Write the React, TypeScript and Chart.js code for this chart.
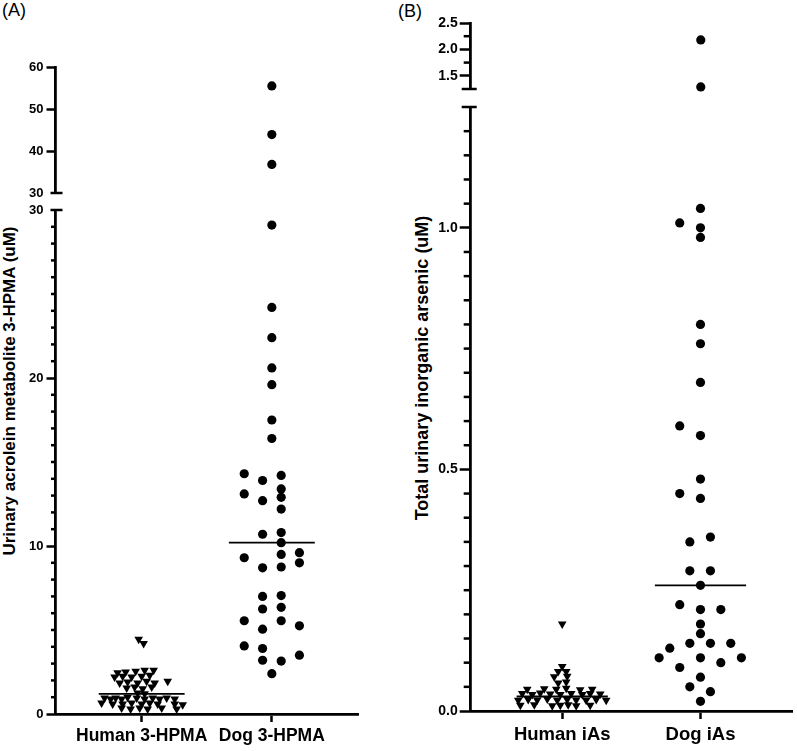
import React, { useEffect, useRef } from 'react';
import { Chart, registerables } from 'chart.js';

Chart.register(...registerables);

const FONT = "'Liberation Sans', Arial, Helvetica, sans-serif";

// ---------------- Panel A: urinary acrolein metabolite 3-HPMA (uM) ----------------
const categoriesA = ['Human 3-HPMA', 'Dog 3-HPMA'];
const humanAValues = [4.45, 4.2, 2.45, 2.5, 2.55, 2.6, 2.6, 2.2, 2.25, 2.2, 2.25, 2.3, 1.95, 1.85, 1.9, 1.85, 1.95, 1.85, 1.55, 1.6, 1.5, 1.6, 1.25, 1.2, 0.95, 0.9, 0.95, 0.9, 1.0, 0.95, 0.9, 0.95, 0.9, 0.95, 0.9, 0.65, 0.6, 0.6, 0.65, 0.6, 0.65, 0.6, 0.6, 0.55, 0.35, 0.3, 0.35, 0.3, 0.35, 0.3];
// horizontal spread of each point inside its column, in category widths
const humanAJitter = [-0.023, 0.015, -0.185, -0.123, -0.046, 0.023, 0.092, -0.208, -0.146, -0.077, 0, 0.062, 0.2, -0.169, -0.108, -0.031, 0.038, 0.1, -0.115, -0.054, 0.008, 0.077, -0.031, 0.023, -0.285, -0.238, -0.2, -0.154, -0.108, -0.038, 0.023, 0.085, 0.138, 0.192, 0.254, -0.308, -0.223, -0.146, -0.077, 0, 0.062, 0.123, 0.254, 0.315, -0.154, -0.085, -0.015, 0.046, 0.154, 0.269];
const dogAValues = [55.5, 43.9, 36.8, 29.1, 24.2, 22.4, 20.6, 19.6, 17.5, 16.4, 14.3, 13.9, 14.2, 13.4, 13.1, 12.7, 12.9, 12.2, 10.7, 10.8, 10.2, 9.6, 9.5, 9.3, 9.0, 8.7, 8.75, 7.0, 7.05, 6.25, 6.35, 5.55, 5.55, 5.05, 5.25, 4.05, 3.9, 3.5, 3.2, 3.15, 2.4];
const dogAJitter = [0, 0, 0, 0, 0, 0, 0, 0, 0, 0, -0.212, -0.071, 0.072, 0.072, -0.212, -0.071, 0.072, 0.072, -0.071, 0.072, 0.072, 0.212, 0.072, -0.212, 0.212, -0.071, 0.072, -0.071, 0.072, -0.071, 0.072, -0.212, 0.072, -0.071, 0.212, -0.212, -0.071, 0.212, -0.071, 0.072, 0];
const medianA = [1.2, 10.2];
const lowTicksA = [0, 10, 20, 30];
const highTicksA = [30, 40, 50, 60];

// ---------------- Panel B: total urinary inorganic arsenic (uM) ----------------
const categoriesB = ['Human iAs', 'Dog iAs'];
const humanBValues = [0.18, 0.092, 0.082, 0.082, 0.071, 0.072, 0.058, 0.06, 0.045, 0.046, 0.045, 0.047, 0.044, 0.045, 0.036, 0.034, 0.037, 0.035, 0.034, 0.036, 0.034, 0.036, 0.035, 0.022, 0.024, 0.023, 0.025, 0.022, 0.024, 0.023, 0.022, 0.024, 0.022, 0.012, 0.013, 0.011, 0.012, 0.013, 0.011, 0.012];
const humanBJitter = [0, 0, -0.029, 0.029, -0.058, 0.036, -0.029, 0.029, -0.253, -0.13, -0.043, 0.029, 0.13, 0.217, -0.289, -0.217, -0.159, -0.087, -0.014, 0.065, 0.145, 0.202, 0.275, -0.318, -0.246, -0.181, -0.108, -0.036, 0.036, 0.101, 0.173, 0.246, 0.318, -0.303, -0.202, -0.072, -0.014, 0.043, 0.101, 0.202];
const dogBValues = [2.18, 1.29, 1.04, 1.01, 1.0, 0.98, 0.8, 0.76, 0.68, 0.59, 0.57, 0.48, 0.45, 0.44, 0.35, 0.36, 0.29, 0.29, 0.26, 0.22, 0.21, 0.21, 0.18, 0.16, 0.13, 0.14, 0.14, 0.14, 0.11, 0.11, 0.11, 0.09, 0.1, 0.07, 0.05, 0.04, 0.02];
const dogBJitter = [0, 0, 0, -0.15, 0, 0, 0, 0, 0, -0.15, 0, 0, -0.15, 0, -0.077, 0.072, -0.077, 0.072, 0, -0.15, 0, 0.147, 0, 0, -0.222, -0.077, 0.072, 0.219, -0.299, 0, 0.296, -0.15, 0.147, 0, -0.077, 0.072, 0];
const medianB = [0.03, 0.26];
const lowTicksB = [0, 0.5, 1.0];
const highTicksB = [1.5, 2.0, 2.5];

const MEDIAN_HALF = 0.33;
const X_MIN = 0.338;
const X_MAX = 2.662;

type Series = { values: number[]; jitter: number[]; category: number; style: 'circle' | 'triangle' };

type SegProps = {
  left: number; top: number; width: number; height: number;
  yWidth: number; padTop: number; padBottom: number; padRight: number;
  min: number; max: number; ticks: number[]; minorStep: number; decimals: number;
  capEnd: 'top' | 'bottom'; capLeft: number; capRight: number; hideTickAt?: number;
  tickFont: number; majorLen: number; minorLen: number; tickPad: number;
  categories: string[]; showX: boolean; xHeight: number; xFont: number; xPad: number;
  series: Series[]; medians: number[];
};

function Segment(p: SegProps) {
  const ref = useRef<HTMLCanvasElement>(null);
  useEffect(() => {
    const canvas = ref.current;
    if (!canvas) return;
    const inRange = (v: number) => v >= p.min - 1e-9 && v <= p.max + 1e-9;
    const datasets: any[] = [];
    p.series.forEach((s) => {
      const pts = s.values
        .map((v, i) => ({ x: s.category + s.jitter[i], y: v }))
        .filter((pt) => inRange(pt.y));
      datasets.push({
        type: 'scatter',
        data: pts,
        pointStyle: s.style,
        rotation: s.style === 'triangle' ? 180 : 0,
        pointRotation: s.style === 'triangle' ? 180 : 0,
        pointRadius: s.style === 'triangle' ? 5 : 4.6,
        backgroundColor: '#000',
        borderColor: '#000',
        borderWidth: 0,
        clip: false,
      });
    });
    p.medians.forEach((m, i) => {
      if (!inRange(m)) return;
      datasets.push({
        type: 'scatter',
        showLine: true,
        data: [
          { x: i + 1 - MEDIAN_HALF, y: m },
          { x: i + 1 + MEDIAN_HALF, y: m },
        ],
        borderColor: '#000',
        borderWidth: 1.8,
        pointRadius: 0,
        clip: false,
      });
    });

    const decor = {
      id: 'decor',
      afterDraw(chart: any) {
        const y = chart.scales.y;
        const ctx = chart.ctx;
        const ax = chart.chartArea.left;
        ctx.save();
        ctx.strokeStyle = '#000';
        ctx.lineWidth = 2.5;
        ctx.lineCap = 'butt';
        const line = (x1: number, y1: number, x2: number, y2: number) => {
          ctx.beginPath();
          ctx.moveTo(x1, y1);
          ctx.lineTo(x2, y2);
          ctx.stroke();
        };
        if (p.minorStep > 0) {
          const n = Math.round((p.max - p.min) / p.minorStep);
          for (let i = 0; i <= n; i++) {
            const v = p.min + i * p.minorStep;
            if (p.ticks.some((t) => Math.abs(t - v) < 1e-6)) continue;
            if (i === 0 && p.capEnd === 'bottom') continue;
            if (i === n && p.capEnd === 'top') continue;
            const py = y.getPixelForValue(v);
            line(ax - p.minorLen, py, ax, py);
          }
        }
        const cy = p.capEnd === 'top' ? chart.chartArea.top : chart.chartArea.bottom;
        line(ax - p.capLeft, cy, ax + p.capRight, cy);
        ctx.restore();
      },
    };

    const chart = new Chart(canvas, {
      type: 'scatter',
      data: { datasets },
      options: {
        responsive: false,
        maintainAspectRatio: false,
        animation: false,
        events: [],
        layout: { padding: { left: 0, right: p.padRight, top: p.padTop, bottom: p.padBottom } },
        plugins: { legend: { display: false }, tooltip: { enabled: false } },
        scales: {
          x: {
            type: 'linear',
            min: X_MIN,
            max: X_MAX,
            display: p.showX,
            afterBuildTicks: (s: any) => {
              s.ticks = p.categories.map((_, i) => ({ value: i + 1 }));
            },
            afterFit: (s: any) => {
              s.height = p.xHeight;
            },
            ticks: {
              autoSkip: false,
              maxRotation: 0,
              minRotation: 0,
              color: '#000',
              padding: p.xPad,
              font: { family: FONT, size: p.xFont, weight: 'bold' },
              callback: (v: any) => p.categories[Math.round(Number(v)) - 1] ?? '',
            },
            grid: { display: true, drawOnChartArea: false, drawTicks: true, tickLength: 8, tickWidth: 2.5, tickColor: '#000' },
            border: { display: true, color: '#000', width: 2.8 },
          },
          y: {
            type: 'linear',
            min: p.min,
            max: p.max,
            afterBuildTicks: (s: any) => {
              s.ticks = p.ticks.map((v) => ({ value: v }));
            },
            afterFit: (s: any) => {
              s.width = p.yWidth;
            },
            ticks: {
              color: '#000',
              padding: p.tickPad,
              font: { family: FONT, size: p.tickFont, weight: 'bold' },
              callback: (v: any) => Number(v).toFixed(p.decimals),
            },
            grid: {
              display: true,
              drawOnChartArea: false,
              drawTicks: true,
              tickLength: p.majorLen,
              tickWidth: 2.5,
              tickColor: (c: any) =>
                p.hideTickAt !== undefined && c.tick && Math.abs(c.tick.value - p.hideTickAt) < 1e-9
                  ? 'rgba(0,0,0,0)'
                  : '#000',
            },
            border: { display: true, color: '#000', width: 2.8 },
          },
        },
      } as any,
      plugins: [decor],
    });
    return () => chart.destroy();
  }, []);
  return (
    <canvas
      ref={ref}
      width={p.width}
      height={p.height}
      style={{ position: 'absolute', left: p.left, top: p.top, width: p.width, height: p.height }}
    />
  );
}

const rotTitle = (cx: number, cy: number, size: number): React.CSSProperties => ({
  position: 'absolute',
  left: cx - 250,
  top: cy - 12,
  width: 500,
  height: 24,
  lineHeight: '24px',
  textAlign: 'center',
  whiteSpace: 'nowrap',
  fontFamily: FONT,
  fontWeight: 'bold',
  fontSize: size,
  color: '#000',
  transform: 'rotate(-90deg)',
});

export default function App() {
  const seriesA: Series[] = [
    { values: humanAValues, jitter: humanAJitter, category: 1, style: 'triangle' },
    { values: dogAValues, jitter: dogAJitter, category: 2, style: 'circle' },
  ];
  const seriesB: Series[] = [
    { values: humanBValues, jitter: humanBJitter, category: 1, style: 'triangle' },
    { values: dogBValues, jitter: dogBJitter, category: 2, style: 'circle' },
  ];
  const commonA = {
    left: 0, width: 400, yWidth: 55.5, padRight: 42, tickFont: 13, majorLen: 9, minorLen: 4.5, tickPad: 3,
    capLeft: 5, capRight: 7, hideTickAt: 30, categories: categoriesA, series: seriesA, medians: medianA,
    decimals: 0, xFont: 17.5, xPad: 3.7,
  };
  const commonB = {
    left: 400, width: 397, yWidth: 70.7, padRight: 4.3, tickFont: 14, majorLen: 11, minorLen: 7, tickPad: 2,
    capLeft: 9, capRight: 6, categories: categoriesB, series: seriesB, medians: medianB,
    decimals: 1, xFont: 18.5, xPad: 5.2,
  };
  return (
    <div style={{ position: 'absolute', left: 0, top: 0, width: 797, height: 751, background: '#fff', overflow: 'hidden', fontFamily: FONT }}>
      <div style={{ position: 'absolute', left: 2, top: 1, fontSize: 18, lineHeight: '18px', color: '#000' }}>(A)</div>
      <div style={{ position: 'absolute', left: 398, top: 2, fontSize: 18, lineHeight: '18px', color: '#000' }}>(B)</div>
      <div style={rotTitle(9.6, 391, 17)}>Urinary acrolein metabolite 3-HPMA (uM)</div>
      <div style={rotTitle(421.7, 367.5, 18)}>Total urinary inorganic arsenic (uM)</div>

      <Segment {...commonA} top={55} height={150} padTop={12} padBottom={12} min={30} max={60}
        ticks={highTicksA} minorStep={0} capEnd="bottom" showX={false} xHeight={0} />
      <Segment {...commonA} top={198} height={553} padTop={12} padBottom={0} min={0} max={30}
        ticks={lowTicksA} minorStep={1} capEnd="top" showX={true} xHeight={37} />

      <Segment {...commonB} top={11} height={90} padTop={12} padBottom={12} min={1.25} max={2.5}
        ticks={highTicksB} minorStep={0.25} capEnd="bottom" showX={false} xHeight={0} />
      <Segment {...commonB} top={95} height={656} padTop={12} padBottom={0} min={0} max={1.25}
        ticks={lowTicksB} minorStep={0.05} capEnd="top" showX={true} xHeight={40} />
    </div>
  );
}
